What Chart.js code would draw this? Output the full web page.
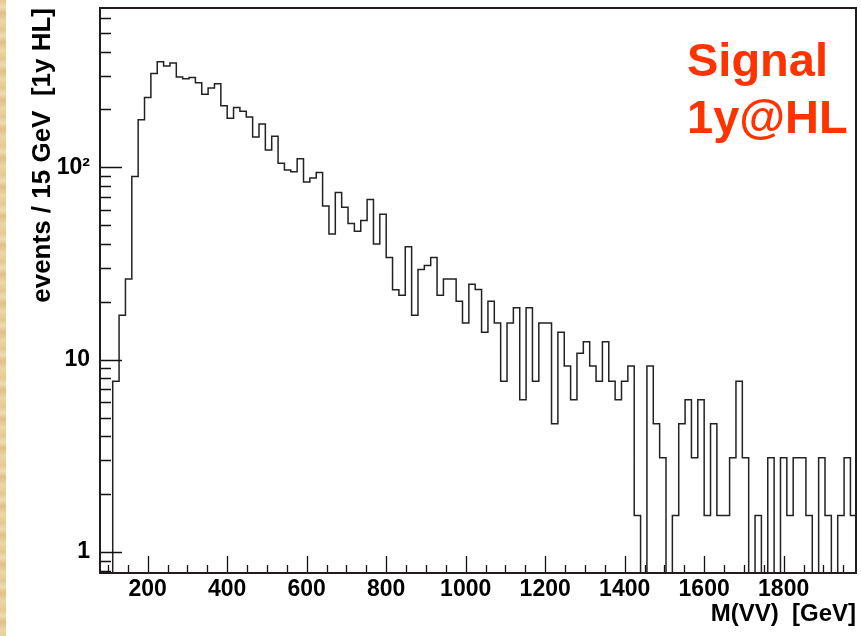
<!DOCTYPE html>
<html>
<head>
<meta charset="utf-8">
<script src="https://cdn.jsdelivr.net/npm/chart.js@4/dist/chart.umd.min.js"></script>
<style>
  html, body { margin: 0; padding: 0; background: #ffffff; }
  #wrap { position: relative; width: 861px; height: 636px; overflow: hidden; }
  #strip { position: absolute; left: 0; top: 0; width: 6px; height: 636px;
    background: repeating-linear-gradient(180deg, #e3c88e 0px, #efdcae 7px, #dfc084 13px, #ecd6a2 21px, #e6cc93 29px); }
  canvas { position: absolute; left: 0; top: 0; }
</style>
</head>
<body>
<div id="wrap">
  <canvas id="c" width="861" height="636"></canvas>
  <div id="strip"></div>
</div>
<script>
// ---- data ----
// lower edges of the 16 GeV bins, M(VV) in GeV
const binLowEdges = [
  80, 96, 112, 128, 144, 160, 176, 192, 208, 224,
  240, 256, 272, 288, 304, 320, 336, 352, 368, 384,
  400, 416, 432, 448, 464, 480, 496, 512, 528, 544,
  560, 576, 592, 608, 624, 640, 656, 672, 688, 704,
  720, 736, 752, 768, 784, 800, 816, 832, 848, 864,
  880, 896, 912, 928, 944, 960, 976, 992, 1008, 1024,
  1040, 1056, 1072, 1088, 1104, 1120, 1136, 1152, 1168, 1184,
  1200, 1216, 1232, 1248, 1264, 1280, 1296, 1312, 1328, 1344,
  1360, 1376, 1392, 1408, 1424, 1440, 1456, 1472, 1488, 1504,
  1520, 1536, 1552, 1568, 1584, 1600, 1616, 1632, 1648, 1664,
  1680, 1696, 1712, 1728, 1744, 1760, 1776, 1792, 1808, 1824,
  1840, 1856, 1872, 1888, 1904, 1920, 1936, 1952, 1968
];
const lastBinUpEdge = 1984;

// events per bin [1y HL]
const signalEvents = [
  0, 0, 7.73, 17.0, 26.3, 89.7, 177, 231, 308, 354,
  337, 349, 295, 289, 293, 275, 240, 259, 272, 209,
  180, 205, 196, 183, 144, 168, 123, 145, 105, 97,
  95, 111, 84, 88, 94, 63, 45, 74, 62, 51,
  46.5, 53, 68, 40, 57, 34, 23.1, 21.6, 38.7, 17.0,
  29.4, 30.9, 34.0, 21.6, 26.3, 26.3, 20.1, 15.5, 24.7, 23.2,
  13.9, 20.1, 15.5, 7.73, 15.5, 18.6, 6.18, 18.6, 7.73, 15.5,
  15.5, 4.64, 13.9, 9.28, 6.18, 10.8, 12.4, 9.28, 7.73, 12.4,
  7.73, 6.18, 7.73, 9.28, 1.55, 0, 9.28, 4.64, 3.09, 0,
  1.55, 4.64, 6.18, 3.09, 6.18, 1.55, 4.64, 1.55, 1.55, 3.09,
  7.73, 3.09, 0, 1.55, 0, 3.09, 0, 3.09, 1.55, 3.09,
  3.09, 1.55, 0, 3.09, 1.55, 0, 1.55, 3.09, 1.55
];

// axis ticks and texts
const xTickLabels = [200, 400, 600, 800, 1000, 1200, 1400, 1600, 1800];
const yTickValues = [1, 10, 100];
const yTickText = { 1: '1', 10: '10', 100: '10\u00B2' };
const yMinorTicks = [0.8, 0.9, 2, 3, 4, 5, 6, 7, 8, 9, 20, 30, 40, 50, 60, 70, 80, 90, 200, 300, 400, 500, 600];
const xTitle = 'M(VV)  [GeV]';
const yTitle = 'events / 15 GeV  [1y HL]';
const legendLines = ['Signal', '1y@HL'];

// ---- build ----
// empty bins sit on the axis floor: draw them just below the visible minimum (clipped)
const Y_MIN = 0.7776, Y_MAX = 674;
const points = binLowEdges.map((e, i) => ({ x: e, y: signalEvents[i] > 0 ? signalEvents[i] : Y_MIN * 0.5 }));
points.push({ x: lastBinUpEdge, y: signalEvents[signalEvents.length - 1] });

const FONT = '"Liberation Sans", Arial, Helvetica, sans-serif';

const frameAndTicks = {
  id: 'frameAndTicks',
  afterDatasetsDraw(chart) {
    const { ctx, chartArea: a, scales: { x, y } } = chart;
    ctx.save();
    ctx.strokeStyle = '#111';
    ctx.lineWidth = 1.3;
    ctx.beginPath();
    for (let v = 100; v < 1982; v += 50) {
      const px = Math.round(x.getPixelForValue(v)) + 0.5;
      const len = (v % 200 === 0) ? 17 : 8;
      ctx.moveTo(px, a.bottom); ctx.lineTo(px, a.bottom - len);
    }
    yTickValues.forEach(v => {
      const py = Math.round(y.getPixelForValue(v)) + 0.5;
      ctx.moveTo(a.left, py); ctx.lineTo(a.left + 22, py);
    });
    yMinorTicks.forEach(v => {
      const py = Math.round(y.getPixelForValue(v)) + 0.5;
      ctx.moveTo(a.left, py); ctx.lineTo(a.left + 11, py);
    });
    ctx.stroke();
    ctx.strokeStyle = '#231c1c';
    ctx.lineWidth = 2;
    ctx.strokeRect(a.left, a.top, a.right - a.left, a.bottom - a.top);
    ctx.fillStyle = '#ff3300';
    ctx.font = 'bold 47px ' + FONT;
    ctx.textAlign = 'left';
    ctx.textBaseline = 'alphabetic';
    ctx.fillText(legendLines[0], 687, 76);
    ctx.fillText(legendLines[1], 687, 133);
    ctx.restore();
  }
};

const noPad = s => { s.paddingTop = 0; s.paddingBottom = 0; s.paddingLeft = 0; s.paddingRight = 0; };

new Chart(document.getElementById('c'), {
  type: 'line',
  data: {
    datasets: [{
      data: points,
      stepped: 'before',
      borderColor: '#222222',
      borderWidth: 1.5,
      pointRadius: 0,
      fill: false,
      tension: 0
    }]
  },
  options: {
    responsive: false,
    animation: false,
    devicePixelRatio: 1,
    layout: { padding: { top: 8, right: 5, left: 0, bottom: 0 } },
    plugins: { legend: { display: false }, tooltip: { enabled: false } },
    scales: {
      x: {
        type: 'linear',
        min: 80,
        max: 1982,
        grid: { display: false, drawTicks: false },
        border: { display: false },
        afterBuildTicks: s => { s.ticks = xTickLabels.map(v => ({ value: v })); },
        afterFit: s => { s.height = 63; noPad(s); },
        ticks: {
          autoSkip: false, maxRotation: 0, padding: 3, color: '#000',
          font: { family: FONT, size: 23, weight: 'bold' },
          callback: v => String(v)
        },
        title: {
          display: true, text: xTitle, align: 'end', color: '#000',
          padding: { top: 0, bottom: 7 },
          font: { family: FONT, size: 24, weight: 'bold' }
        }
      },
      y: {
        type: 'logarithmic',
        min: Y_MIN,
        max: Y_MAX,
        grid: { display: false, drawTicks: false },
        border: { display: false },
        afterBuildTicks: s => { s.ticks = yTickValues.map(v => ({ value: v })); },
        afterFit: s => { s.width = 100; noPad(s); },
        ticks: {
          padding: 10, color: '#000',
          font: { family: FONT, size: 23, weight: 'bold' },
          callback: v => yTickText[v] !== undefined ? yTickText[v] : ''
        },
        title: {
          display: true, text: yTitle, align: 'end', color: '#000',
          padding: { top: 27, bottom: 0 },
          font: { family: FONT, size: 26, weight: 'bold' }
        }
      }
    }
  },
  plugins: [frameAndTicks]
});
</script>
</body>
</html>
